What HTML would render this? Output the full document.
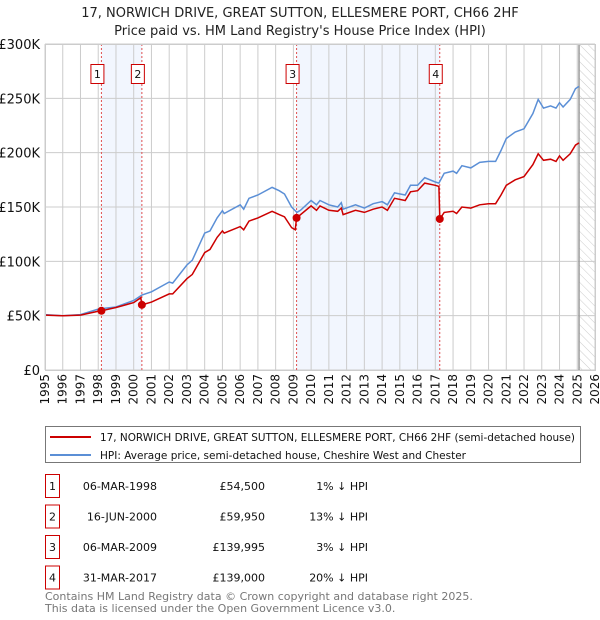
<!DOCTYPE html>
<html><head><meta charset="utf-8"><style>
body{margin:0;background:#fff;font-family:"DejaVu Sans","Liberation Sans",sans-serif;}
svg{display:block}
text{font-family:"DejaVu Sans","Liberation Sans",sans-serif;}
</style></head><body>
<svg id="c" width="600" height="620" viewBox="0 0 600 620">
<text x="300" y="17" text-anchor="middle" font-size="13" fill="#222">17, NORWICH DRIVE, GREAT SUTTON, ELLESMERE PORT, CH66 2HF</text>
<text x="300" y="35" text-anchor="middle" font-size="13" fill="#222">Price paid vs. HM Land Registry's House Price Index (HPI)</text>
<g id="plot"></g>
<g>
<rect x="45.5" y="426.5" width="535" height="36" fill="#fff" stroke="#777"/>
<line x1="50" y1="437" x2="91" y2="437" stroke="#cc0000" stroke-width="2"/>
<text x="100" y="441" font-size="11" fill="#111" textLength="475" lengthAdjust="spacingAndGlyphs">17, NORWICH DRIVE, GREAT SUTTON, ELLESMERE PORT, CH66 2HF (semi-detached house)</text>
<line x1="50" y1="455" x2="91" y2="455" stroke="#5b8fd6" stroke-width="2"/>
<text x="100" y="459" font-size="11" fill="#111" textLength="366" lengthAdjust="spacingAndGlyphs">HPI: Average price, semi-detached house, Cheshire West and Chester</text>
</g>
<g id="table" font-size="11" fill="#111"></g>
<text x="45" y="600" font-size="11" fill="#777">Contains HM Land Registry data © Crown copyright and database right 2025.</text>
<text x="45" y="612" font-size="11" fill="#777">This data is licensed under the Open Government Licence v3.0.</text>
</svg>
<script>
const yTicks=[0,50000,100000,150000,200000,250000,300000];
const yTickLabels=["£0","£50K","£100K","£150K","£200K","£250K","£300K"];
const xYears=[1995,1996,1997,1998,1999,2000,2001,2002,2003,2004,2005,2006,2007,2008,2009,2010,2011,2012,2013,2014,2015,2016,2017,2018,2019,2020,2021,2022,2023,2024,2025,2026];
const hpiT=[1995,1996,1997,1998,1998.18,1999,2000,2000.46,2001,2002,2002.2,2003,2003.3,2004,2004.3,2004.7,2005,2005.1,2006,2006.2,2006.5,2007,2007.8,2008.2,2008.5,2008.9,2009.2,2009.4,2010,2010.3,2010.5,2011,2011.5,2011.7,2011.8,2012.5,2013,2013.5,2014,2014.3,2014.7,2015.3,2015.6,2016,2016.4,2017,2017.2,2017.5,2018,2018.2,2018.5,2019,2019.5,2020,2020.4,2020.7,2021,2021.5,2022,2022.5,2022.8,2023.1,2023.5,2023.8,2024,2024.2,2024.6,2024.9,2025.1];
const hpiV=[51,50,51,56,56.5,58,64,69,72,81,80,96.6,101,126,128,140,146.6,144,152,148,158,161,168,165,162,150,145,147,156,152,156,152,150,154,148,152,149,153,155,152,163,161,170,170,177,173,172,181,183,181,188,186,191,192,192,202,213,219,222,236,249,241,243,241,246,242,249,259,261];
const priceT=[1995,1996,1997,1998,1998.18,1999,2000,2000.4,2000.46,2001,2002,2002.2,2003,2003.3,2004,2004.3,2004.7,2005,2005.1,2006,2006.2,2006.5,2007,2007.8,2008.2,2008.5,2008.9,2009.1,2009.18,2010,2010.3,2010.5,2011,2011.5,2011.7,2011.8,2012.5,2013,2013.5,2014,2014.3,2014.7,2015.3,2015.6,2016,2016.4,2017,2017.2,2017.25,2017.5,2018,2018.2,2018.5,2019,2019.5,2020,2020.4,2020.7,2021,2021.5,2022,2022.5,2022.8,2023.1,2023.5,2023.8,2024,2024.2,2024.6,2024.9,2025.1];
const priceV=[50.5,50,50.5,54,54.5,57.5,62,66.5,59.95,62.5,70,70,84,88,108,111,122,128,126,132,129,137,140,146,143,141,131,129,139.995,151,147,151,147,146,149,143,147,145,148,150,147,158,156,164,165,172,170,169,139,145,146,144,150,149,152,153,153,161,170,175,178,189,199,193,194,192,197,193,199,207,209];
const saleT=[1998.18,2000.46,2009.18,2017.25];
const saleV=[54500,59950,139995,139000];
const saleDates=["06-MAR-1998","16-JUN-2000","06-MAR-2009","31-MAR-2017"];
const salePrices=["£54,500","£59,950","£139,995","£139,000"];
const saleDiff=["1% ↓ HPI","13% ↓ HPI","3% ↓ HPI","20% ↓ HPI"];

const NS="http://www.w3.org/2000/svg";
const L=45,R=595,T=44,B=370;
const xs=t=>L+(t-1995)*(R-L)/31;
const ys=v=>B-v*(B-T)/300000;
function mk(tag,attrs,parent){const e=document.createElementNS(NS,tag);for(const k in attrs)e.setAttribute(k,attrs[k]);parent.appendChild(e);return e;}
const plot=document.getElementById('plot');
for(const [a,b] of [[0,1],[2,3]]){
 const r=mk('rect',{x:xs(saleT[a]),y:T,width:xs(saleT[b])-xs(saleT[a]),height:B-T,fill:'#f2f6fe'},plot);
 
 
}
const defs=mk('defs',{},plot);
const pat=mk('pattern',{id:'h',width:6,height:6,patternUnits:'userSpaceOnUse',patternTransform:'rotate(-45)'},defs);
mk('line',{x1:0,y1:0,x2:0,y2:6,stroke:'#ccc','stroke-width':1},pat);
const hx=xs(2025.1);
const hr=mk('rect',{x:hx,y:T,width:R-hx,height:B-T,fill:'url(#h)'},plot);


xYears.forEach(y=>{const l=mk('line',{x1:xs(y),x2:xs(y),y1:T,y2:B,stroke:'#ccc','stroke-width':1},plot);
 
 
 const tx=mk('text',{x:0,y:0,'font-size':12,fill:'#111','text-anchor':'end',transform:`translate(${xs(y)+4},374) rotate(-90)`},plot);
 tx.textContent=y;
 
 
});
yTicks.forEach((v,i)=>{const l=mk('line',{x1:L,x2:R,y1:ys(v),y2:ys(v),stroke:'#ccc','stroke-width':1},plot);
 
 
 const tx=mk('text',{x:40,y:ys(v)+5,'font-size':13,fill:'#111','text-anchor':'end'},plot);
 tx.textContent=yTickLabels[i];
 
 
});
mk('line',{x1:hx,x2:hx,y1:T,y2:B,stroke:'#999','stroke-width':1.5},plot);
saleT.forEach((t,i)=>{const l=mk('line',{x1:xs(t),x2:xs(t),y1:T,y2:B,stroke:'#e05050','stroke-width':1,'stroke-dasharray':'2,2'},plot);
 
 
 const g=mk('g',{},plot);
 
 
 mk('rect',{x:xs(t)-10.5,y:64.5,width:13,height:19,fill:'#fff',stroke:'#cc0000'},g);
 const tx=mk('text',{x:xs(t)-4,y:78,'font-size':11,fill:'#111','text-anchor':'middle'},g);tx.textContent=i+1;
});
function line(T_,V_,color,name){const d=T_.map((t,i)=>(i?'L':'M')+xs(t).toFixed(1)+','+ys(V_[i]*1000).toFixed(1)).join('');
 const p=mk('path',{d:d,fill:'none',stroke:color,'stroke-width':1.5},plot);
 
 }
line(hpiT,hpiV,'#5b8fd6','hpi-line');
line(priceT,priceV,'#cc0000','price-paid-line');
saleT.forEach((t,i)=>{const c=mk('circle',{cx:xs(t),cy:ys(saleV[i]),r:4,fill:'#cc0000'},plot);
 
 });
mk('rect',{x:L+.5,y:T+.5,width:R-L,height:B-T,fill:'none',stroke:'#ccc'},plot);
const tb=document.getElementById('table');
saleDates.forEach((d,i)=>{const y=484+i*30.5;
 const g=mk('g',{},tb);
 
 
 mk('rect',{x:45.5,y:y-9.5,width:14,height:23,fill:'#fff',stroke:'#cc0000'},g);
 const a=mk('text',{x:52.5,y:y+6,'text-anchor':'middle'},g);a.textContent=i+1;
 const b=mk('text',{x:157,y:y+6,'text-anchor':'end'},g);b.textContent=d;
 const c=mk('text',{x:265,y:y+6,'text-anchor':'end'},g);c.textContent=salePrices[i];
 const e=mk('text',{x:368,y:y+6,'text-anchor':'end'},g);e.textContent=saleDiff[i];
});
</script>
</body></html>
